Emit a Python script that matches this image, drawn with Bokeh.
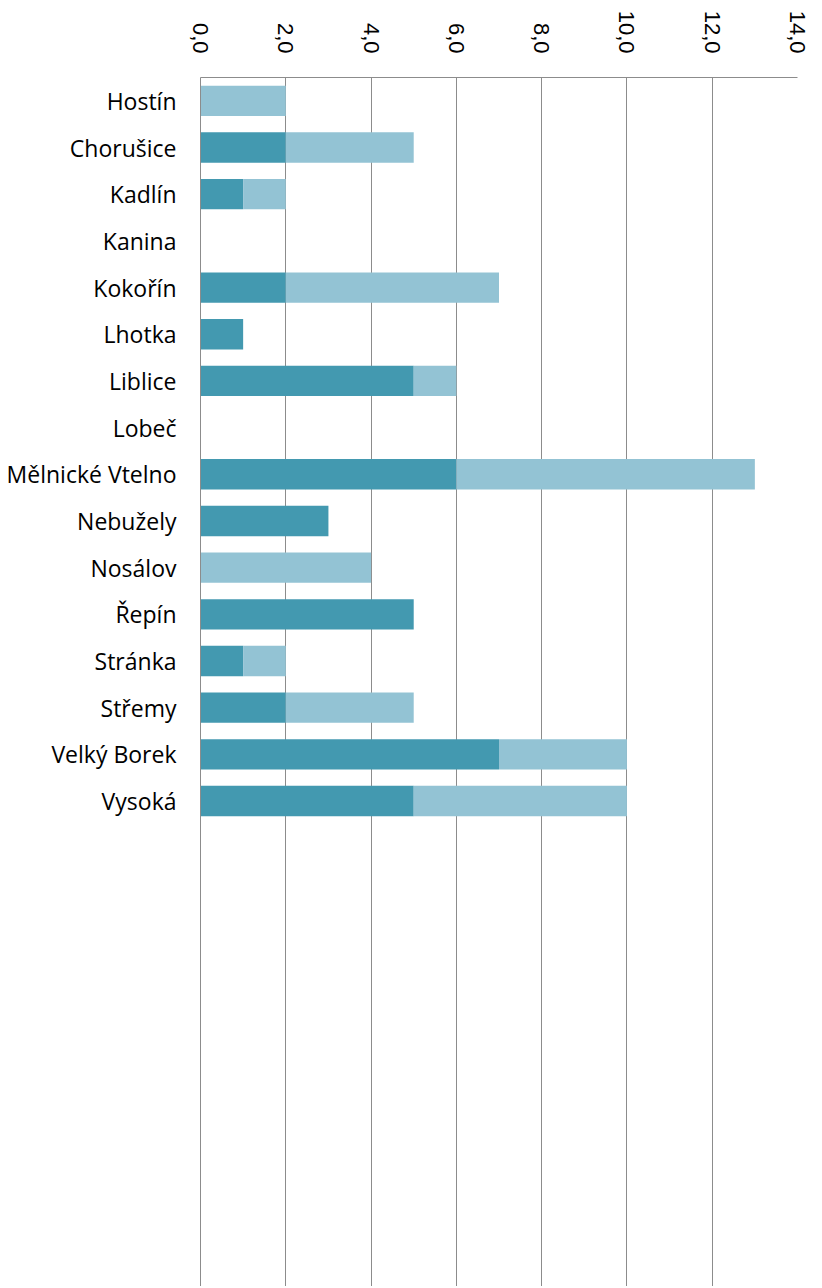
import math
from bokeh.plotting import figure
from bokeh.models import Range1d, FixedTicker, ColumnDataSource, CustomJSTickFormatter
from bokeh.embed import file_html
from bokeh.resources import INLINE

categories = ["Hostín", "Chorušice", "Kadlín", "Kanina", "Kokořín", "Lhotka",
              "Liblice", "Lobeč", "Mělnické Vtelno", "Nebužely", "Nosálov",
              "Řepín", "Stránka", "Střemy", "Velký Borek", "Vysoká"]
series_dark = [0, 2, 1, 0, 2, 1, 5, 0, 6, 3, 0, 5, 1, 2, 7, 5]
series_light = [2, 3, 1, 0, 5, 0, 1, 0, 7, 0, 4, 0, 1, 3, 3, 5]
x_ticks = [0, 2, 4, 6, 8, 10, 12, 14]

idx = list(range(len(categories)))
src = ColumnDataSource(dict(y=idx, dark=series_dark, light=series_light))

p = figure(width=812, height=1286, output_backend="svg", toolbar_location=None,
           x_range=Range1d(0, 14), y_range=Range1d(25.4, -0.5),
           x_axis_location="above", min_border_left=200, min_border_top=77,
           min_border_bottom=0, min_border_right=15)
p.outline_line_color = None

p.hbar_stack(["dark", "light"], y="y", height=0.65, color=["#4399B0", "#93C3D4"],
             source=src, line_color=None)

p.xaxis.ticker = FixedTicker(ticks=x_ticks)
p.xaxis.formatter = CustomJSTickFormatter(code="return tick.toFixed(1).replace('.', ',');")
p.xaxis.major_label_orientation = -math.pi / 2
p.xaxis.major_label_text_font = "Liberation Sans"
p.xaxis.major_label_text_font_size = "22px"
p.xaxis.major_label_text_color = "#000000"
p.xaxis.major_label_standoff = 18
p.xaxis.major_tick_line_color = None
p.xaxis.minor_tick_line_color = None
p.xaxis.axis_line_color = "#8c8c8c"

p.yaxis.ticker = FixedTicker(ticks=idx)
p.yaxis.major_label_overrides = {i: c for i, c in enumerate(categories)}
p.yaxis.major_label_text_font = "Open Sans"
p.yaxis.major_label_text_font_size = "23px"
p.yaxis.major_label_text_color = "#000000"
p.yaxis.major_label_standoff = 18
p.yaxis.major_tick_line_color = None
p.yaxis.minor_tick_line_color = None
p.yaxis.axis_line_color = "#8c8c8c"

p.xgrid.ticker = FixedTicker(ticks=x_ticks)
p.xgrid.grid_line_color = "#8c8c8c"
p.ygrid.grid_line_color = None

open("out.html", "w").write(file_html(p, INLINE))
